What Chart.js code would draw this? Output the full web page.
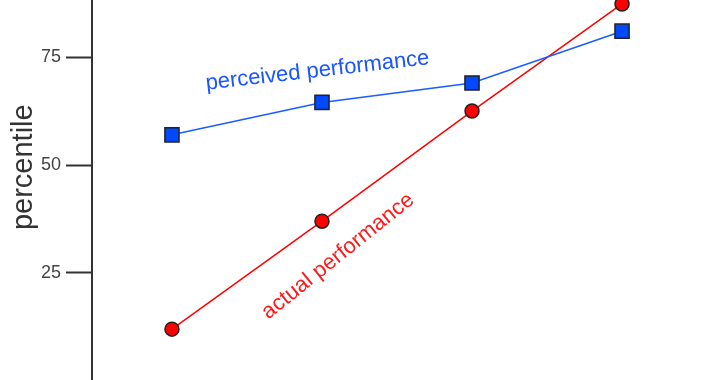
<!DOCTYPE html>
<html>
<head>
<meta charset="utf-8">
<script src="https://cdn.jsdelivr.net/npm/chart.js@4"></script>
<style>
  html, body { margin: 0; padding: 0; background: #fff; }
</style>
</head>
<body>
<canvas id="grafico" width="720" height="380"></canvas>
<script>
// DADOS
const quartis = [1, 2, 3, 4];
const percebido = [57, 64.5, 69, 81];
const real = [12, 37, 62.5, 87.3];
const ticksY = [25, 50, 75];
const tituloY = "percentile";

// rótulos escritos sobre as linhas (posição em coordenadas de dados)
const rotulos = [
  { texto: "perceived performance", x: 1.97, y: 71.8, ang: -6.5, cor: "#1a55ff" },
  { texto: "actual performance", x: 2.107, y: 28.9, ang: -38.7, cor: "#ff1a1a" }
];

const fonte = "'Liberation Sans', Arial, sans-serif";

const pluginRotulos = {
  id: "rotulos",
  afterDatasetsDraw(chart) {
    const { ctx, scales } = chart;
    rotulos.forEach(r => {
      ctx.save();
      ctx.translate(scales.x.getPixelForValue(r.x), scales.y.getPixelForValue(r.y));
      ctx.rotate(r.ang * Math.PI / 180);
      ctx.font = "22px " + fonte;
      ctx.fillStyle = r.cor;
      ctx.textAlign = "center";
      ctx.textBaseline = "middle";
      ctx.fillText(r.texto, 0, 0);
      ctx.restore();
    });

    // título do eixo y (um pouco acima do meio, como no original)
    ctx.save();
    ctx.translate(24, scales.y.getPixelForValue(49.5));
    ctx.rotate(-Math.PI / 2);
    ctx.font = "29px " + fonte;
    ctx.fillStyle = "#333";
    ctx.textAlign = "center";
    ctx.textBaseline = "middle";
    ctx.fillText(tituloY, 0, 0);
    ctx.restore();
  }
};

new Chart(document.getElementById("grafico"), {
  type: "line",
  data: {
    datasets: [
      {
        label: "perceived performance",
        data: quartis.map((q, i) => ({ x: q, y: percebido[i] })),
        borderColor: "#1a5cff",
        borderWidth: 1.5,
        backgroundColor: "#0049ff",
        pointStyle: "rect",
        pointRadius: 10,
        pointBorderColor: "#222",
        pointBorderWidth: 1.5
      },
      {
        label: "actual performance",
        data: quartis.map((q, i) => ({ x: q, y: real[i] })),
        borderColor: "#ff0000",
        borderWidth: 1.5,
        backgroundColor: "#ff0000",
        pointStyle: "circle",
        pointRadius: 7,
        pointBorderColor: "#222",
        pointBorderWidth: 1.5
      }
    ]
  },
  options: {
    responsive: false,
    animation: false,
    clip: false,
    layout: { padding: 0, autoPadding: false },
    plugins: { legend: { display: false }, tooltip: { enabled: false } },
    scales: {
      x: {
        type: "linear",
        display: false,
        min: 0.467,
        max: 4.653
      },
      y: {
        min: 0.22,
        max: 88.22,
        afterFit(scale) {
          scale.width = 92;
          scale.paddingTop = 0;
          scale.paddingBottom = 0;
        },
        afterBuildTicks(scale) { scale.ticks = ticksY.map(v => ({ value: v })); },
        border: { display: true, color: "#333", width: 2 },
        grid: {
          drawOnChartArea: false,
          drawTicks: true,
          tickLength: 26,
          tickColor: "#333",
          tickWidth: 2
        },
        ticks: {
          padding: 5,
          color: "#444",
          font: { family: fonte, size: 18 }
        },
        title: { display: false }
      }
    }
  },
  plugins: [pluginRotulos]
});
</script>
</body>
</html>
